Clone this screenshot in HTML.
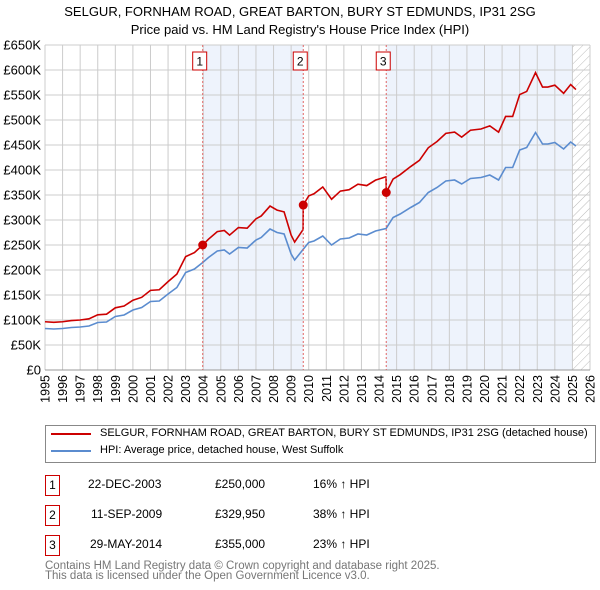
<!DOCTYPE html>
<html><head><meta charset="utf-8"><style>
body{margin:0;background:#fff;font-family:"Liberation Sans","DejaVu Sans",sans-serif;}
#wrap{position:relative;width:600px;height:590px;overflow:hidden}
.t{position:absolute;font-size:12px;color:#000;white-space:nowrap}
.box{position:absolute;width:13px;height:19px;border:1px solid #c00;font-size:12px;text-align:center;line-height:19px;background:#fff}
</style></head><body><div id="wrap">
<div class="t" style="left:0;width:600px;text-align:center;top:4px;font-size:13px">SELGUR, FORNHAM ROAD, GREAT BARTON, BURY ST EDMUNDS, IP31 2SG</div>
<div class="t" style="left:0;width:600px;text-align:center;top:22px;font-size:13px">Price paid vs. HM Land Registry's House Price Index (HPI)</div>
<svg id="svg" width="600" height="420" style="position:absolute;left:0;top:0">
<defs><pattern id="hatch" width="6" height="6" patternUnits="userSpaceOnUse" patternTransform="rotate(45)"><line x1="0" y1="0" x2="0" y2="6" stroke="#bbb" stroke-width="1"/></pattern></defs>
</svg>
<div style="position:absolute;left:45px;top:425px;width:549px;height:36px;border:1px solid #888"></div>
<div style="position:absolute;left:51px;top:433px;width:40px;height:2px;background:#cc0000"></div>
<div class="t" style="left:100px;top:427px;font-size:11px">SELGUR, FORNHAM ROAD, GREAT BARTON, BURY ST EDMUNDS, IP31 2SG (detached house)</div>
<div style="position:absolute;left:51px;top:450px;width:40px;height:2px;background:#5b8ccf"></div>
<div class="t" style="left:100px;top:444px;font-size:11px">HPI: Average price, detached house, West Suffolk</div>
<div class="box" style="left:45px;top:475px">1</div>
<div class="t" style="left:88px;top:477px">22-DEC-2003</div>
<div class="t" style="left:215px;top:477px">£250,000</div>
<div class="t" style="left:313px;top:477px">16% ↑ HPI</div>
<div class="box" style="left:45px;top:505px">2</div>
<div class="t" style="left:91px;top:507px">11-SEP-2009</div>
<div class="t" style="left:215px;top:507px">£329,950</div>
<div class="t" style="left:313px;top:507px">38% ↑ HPI</div>
<div class="box" style="left:45px;top:535px">3</div>
<div class="t" style="left:90px;top:537px">29-MAY-2014</div>
<div class="t" style="left:215px;top:537px">£355,000</div>
<div class="t" style="left:313px;top:537px">23% ↑ HPI</div>
<div class="t" style="left:45px;top:561px;font-size:11.5px;color:#777;line-height:10px">Contains HM Land Registry data © Crown copyright and database right 2025.<br>This data is licensed under the Open Government Licence v3.0.</div>
</div>
<script>
const hpiYears=[1995,1995.5,1996,1996.5,1997,1997.5,1998,1998.5,1999,1999.5,2000,2000.5,2001,2001.5,2002,2002.5,2003,2003.5,2003.97,2004.3,2004.8,2005.2,2005.5,2006,2006.5,2007,2007.3,2007.8,2008.2,2008.6,2009.0,2009.2,2009.7,2010,2010.3,2010.8,2011.3,2011.8,2012.3,2012.8,2013.3,2013.8,2014.4,2014.8,2015.2,2015.8,2016.3,2016.8,2017.3,2017.8,2018.3,2018.7,2019.2,2019.8,2020.3,2020.8,2021.2,2021.6,2022.0,2022.4,2022.9,2023.3,2023.6,2024.0,2024.5,2024.9,2025.2];
const hpiValues=[83,82,83,85,86,88,95,96,107,110,120,125,137,138,152,165,195,202,215,225,238,240,232,245,244,260,265,282,275,272,232,220,242,255,258,268,250,262,264,272,270,278,283,305,312,325,335,355,365,378,380,372,383,385,390,380,405,405,440,445,475,452,452,455,442,456,448];
const saleYears=[2003.97,2009.69,2014.41];
const salePrices=[250,329.95,355];
const yTicks=[0,50,100,150,200,250,300,350,400,450,500,550,600,650];
const xTicks=[1995,1996,1997,1998,1999,2000,2001,2002,2003,2004,2005,2006,2007,2008,2009,2010,2011,2012,2013,2014,2015,2016,2017,2018,2019,2020,2021,2022,2023,2024,2025,2026];
const X0=45,X1=590,Y0=370,Y1=45;
const sx=y=>X0+(y-1995)*(X1-X0)/31;
const sy=v=>Y0-v*(Y0-Y1)/650;
const svg=document.getElementById('svg');const NS='http://www.w3.org/2000/svg';
function mk(t,a,name){const e=document.createElementNS(NS,t);for(const k in a)e.setAttribute(k,a[k]);


svg.appendChild(e);return e;}
function hpiAt(y){for(let i=1;i<hpiYears.length;i++){if(y<=hpiYears[i]){const f=(y-hpiYears[i-1])/(hpiYears[i]-hpiYears[i-1]);return hpiValues[i-1]+f*(hpiValues[i]-hpiValues[i-1]);}}return hpiValues[hpiValues.length-1];}
mk('rect',{x:sx(saleYears[0]),y:Y1,width:sx(saleYears[1])-sx(saleYears[0]),height:Y0-Y1,fill:'#eef3fc'},'ownership-shade-1');
mk('rect',{x:sx(saleYears[2]),y:Y1,width:sx(2025)-sx(saleYears[2]),height:Y0-Y1,fill:'#eef3fc'},'ownership-shade-2');
mk('rect',{x:sx(2025),y:Y1,width:X1-sx(2025),height:Y0-Y1,fill:'url(#hatch)'},'forecast-hatch');
yTicks.forEach(v=>{mk('line',{x1:X0,x2:X1,y1:sy(v),y2:sy(v),stroke:'#ccc','stroke-width':1},'y-gridline');
const t=mk('text',{x:X0-4,y:sy(v)+4.5,'text-anchor':'end','font-size':13,fill:'#000'},'y-tick-label');t.textContent='£'+(v?v+'K':'0');});
xTicks.forEach(y=>{mk('line',{x1:sx(y),x2:sx(y),y1:Y1,y2:Y0,stroke:'#ccc','stroke-width':1},'x-gridline');
const t=mk('text',{x:sx(y)+4.5,y:Y0+5,'text-anchor':'end','font-size':12.5,fill:'#000',transform:'rotate(-90 '+(sx(y)+4.5)+' '+(Y0+5)+')'},'x-tick-label');t.textContent=y;});
mk('line',{x1:X0,x2:X1,y1:Y0,y2:Y0,stroke:'#999'},'x-axis');
mk('polyline',{points:hpiYears.map((y,i)=>sx(y)+','+sy(hpiValues[i])).join(' '),fill:'none',stroke:'#5b8ccf','stroke-width':1.6},'hpi-line');
const pts=[];hpiYears.forEach((y,i)=>{let k=0;while(k<saleYears.length-1&&y>=saleYears[k+1])k++;
const f=salePrices[k]/hpiAt(saleYears[k]);pts.push([y,hpiValues[i]*f]);});
saleYears.forEach((y,k)=>{if(k>0){const f0=salePrices[k-1]/hpiAt(saleYears[k-1]);pts.push([y-0.01,hpiAt(y)*f0]);}pts.push([y,salePrices[k]]);});
pts.sort((a,b)=>a[0]-b[0]);
mk('polyline',{points:pts.map(p=>sx(p[0])+','+sy(p[1])).join(' '),fill:'none',stroke:'#cc0000','stroke-width':1.6},'property-price-line');
saleYears.forEach((y,k)=>{
mk('line',{x1:sx(y),x2:sx(y),y1:Y1,y2:Y0,stroke:'#e06666','stroke-dasharray':'2,2','stroke-width':1},'sale-marker-line');
mk('circle',{cx:sx(y),cy:sy(salePrices[k]),r:4.5,fill:'#cc0000'},'sale-point');
mk('rect',{x:sx(y)-10,y:52,width:14,height:18,fill:'#fff',stroke:'#cc0000'},'sale-label-box');
const t=mk('text',{x:sx(y)-3,y:65.5,'text-anchor':'middle','font-size':12,fill:'#000'},'sale-label');t.textContent=k+1;});
</script></body></html>
